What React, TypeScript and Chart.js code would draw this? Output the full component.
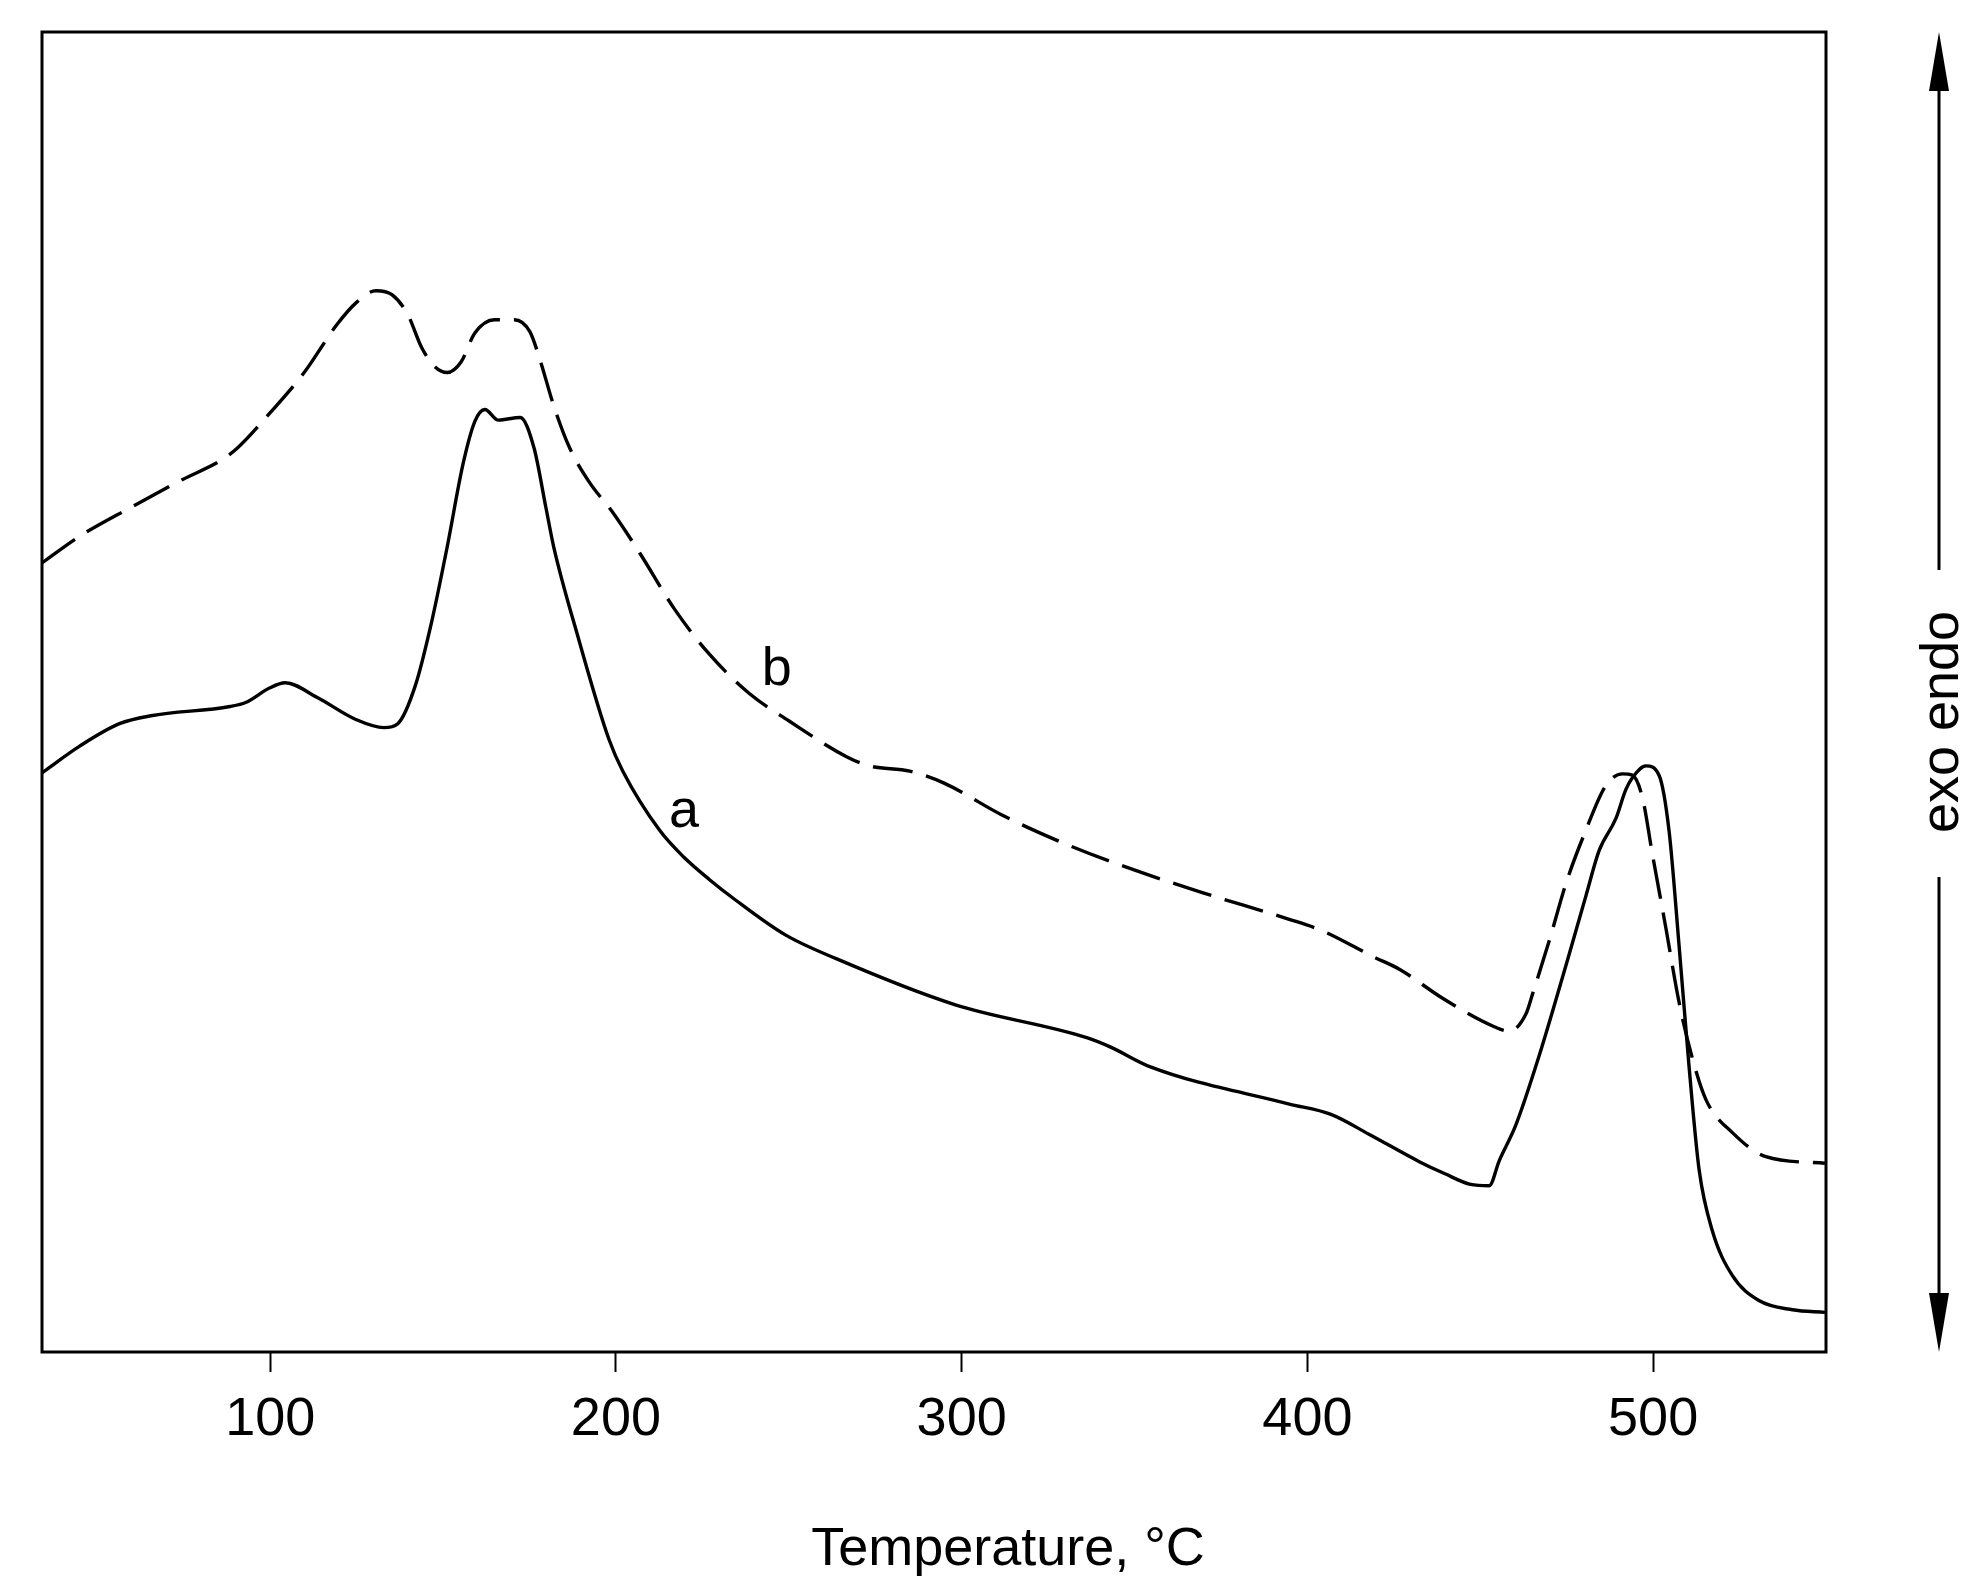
import React, { useEffect, useRef } from "react";
import { Chart, registerables } from "chart.js";

Chart.register(...registerables);

// Temperature axis ticks
const tickValues = [100, 200, 300, 400, 500];
const tickLabels = ["100", "200", "300", "400", "500"];

// Curve a (solid)
const aTemp = [
  34.1, 44.9, 56.4, 65.5, 88.4, 92.9, 99.8, 104.3, 113.5, 124.9, 132.9, 136.9,
  142.0, 146.6, 151.2, 155.8, 159.2, 162.1, 166.0, 172.3, 176.3, 179.8, 182.0,
  188.9, 198.0, 202.0, 212.7, 219.6, 227.0, 234.3, 249.0, 263.7, 298.2,
  336.4, 343.1, 354.6, 394.5, 406.8, 417.8, 432.5, 439.8, 447.2, 452.6,
  455.5, 460.3, 467.1, 474.8, 480.5, 484.4, 489.2, 492.1, 494.0, 497.9, 501.7,
  504.6, 507.5, 510.4, 513.3, 517.1, 522.9, 530.6, 540.3, 549.7,
];
const aSignal = [
  43.9, 45.9, 47.6, 48.2, 48.9, 49.2, 50.3, 50.7, 49.6, 47.9, 47.3, 47.6,
  50.5, 55.2, 61.0, 67.3, 70.5, 71.4, 70.6, 70.8, 68.5, 63.9, 61.0,
  54.3, 46.4, 44.0, 39.5, 37.5, 35.8, 34.3, 31.6, 29.8, 26.3,
  23.8, 23.1, 21.6, 18.8, 18.0, 16.5, 14.4, 13.5, 12.7, 12.6,
  14.5, 17.2, 22.5, 29.3, 34.5, 38.0, 40.4, 42.6, 43.5, 44.4, 43.7,
  39.5, 30.8, 21.6, 13.8, 9.2, 5.8, 3.9, 3.2, 3.0,
];

// Curve b (dashed)
const bTemp = [
  34.1, 44.9, 59.8, 74.7, 86.1, 90.6, 99.8, 110.1, 119.2, 124.9, 130.6, 135.2,
  139.8, 143.8, 147.8, 151.2, 155.2, 159.2, 164.9, 170.6, 175.1, 178.0, 182.0,
  186.6, 192.3, 199.1, 207.2, 216.9, 226.9, 238.5, 250.1, 266.7, 273.3, 285.0,
  294.9, 311.5, 328.1, 344.7, 369.6, 394.5, 404.4, 419.4, 426.6, 439.1, 453.6,
  458.4, 463.2, 465.1, 470.0, 474.8, 480.5, 486.3, 491.1, 494.0, 496.9, 499.8,
  503.7, 507.5, 511.4, 515.3, 523.0, 532.6, 549.7,
];
const bSignal = [
  59.8, 61.8, 64.0, 66.1, 67.6, 68.5, 71.1, 74.3, 77.8, 79.5, 80.4, 80.1,
  78.6, 76.1, 74.6, 74.2, 75.0, 77.2, 78.2, 78.2, 77.3, 75.2, 71.7,
  68.5, 65.9, 63.6, 60.4, 56.3, 52.9, 49.9, 47.8, 45.1, 44.4, 44.0,
  43.1, 40.7, 38.7, 37.0, 34.8, 32.8, 31.9, 29.9, 29.0, 26.8, 24.7,
  24.3, 25.6, 27.1, 31.2, 35.5, 39.5, 42.9, 43.8, 43.7, 42.0, 37.7,
  32.1, 26.5, 22.2, 19.1, 16.6, 14.8, 14.3,
];

// Curve labels (temperature, signal at baseline)
const curveLabels = ["a", "b"];
const labelTemp = [219.7, 246.5];
const labelSignal = [39.8, 50.5];

const xTitle = "Temperature, °C";
const sideTitle = "exo endo";

const FONT = '"Liberation Sans", Arial, sans-serif';

const decorations = {
  id: "decorations",
  afterDraw(chart: any) {
    const { ctx, chartArea } = chart;
    const xs = chart.scales.x;
    const ys = chart.scales.y;
    ctx.save();
    // frame
    ctx.strokeStyle = "#000";
    ctx.lineWidth = 3;
    ctx.strokeRect(
      chartArea.left,
      chartArea.top,
      chartArea.right - chartArea.left,
      chartArea.bottom - chartArea.top
    );
    // curve labels
    ctx.fillStyle = "#000";
    ctx.font = `54px ${FONT}`;
    ctx.textAlign = "center";
    ctx.textBaseline = "alphabetic";
    curveLabels.forEach((l, i) => {
      ctx.fillText(l, xs.getPixelForValue(labelTemp[i]), ys.getPixelForValue(labelSignal[i]));
    });
    // x title
    ctx.fillText(xTitle, 1008, 1565);

    // side arrow
    const ax = chartArea.right + 113;
    const top = chartArea.top;
    const bot = chartArea.bottom;
    const headL = 59;
    const headW = 10;
    ctx.lineWidth = 3;
    ctx.beginPath();
    ctx.moveTo(ax, top + headL - 2);
    ctx.lineTo(ax, 570);
    ctx.moveTo(ax, 877);
    ctx.lineTo(ax, bot - headL + 2);
    ctx.stroke();
    ctx.beginPath();
    ctx.moveTo(ax, top);
    ctx.lineTo(ax - headW, top + headL);
    ctx.lineTo(ax + headW, top + headL);
    ctx.closePath();
    ctx.fill();
    ctx.beginPath();
    ctx.moveTo(ax, bot);
    ctx.lineTo(ax - headW, bot - headL);
    ctx.lineTo(ax + headW, bot - headL);
    ctx.closePath();
    ctx.fill();
    // side text
    ctx.save();
    ctx.translate(ax + 19, 722);
    ctx.rotate(-Math.PI / 2);
    ctx.textAlign = "center";
    ctx.textBaseline = "alphabetic";
    ctx.font = `54px ${FONT}`;
    ctx.fillText(sideTitle, 0, 0);
    ctx.restore();
    ctx.restore();
  },
};

export default function App() {
  const canvasRef = useRef<HTMLCanvasElement | null>(null);

  useEffect(() => {
    document.body.style.margin = "0";
    const canvas = canvasRef.current;
    if (!canvas) return;
    const chart = new Chart(canvas, {
      type: "line",
      data: {
        datasets: [
          {
            label: "a",
            data: aTemp.map((t, i) => ({ x: t, y: aSignal[i] })),
            borderColor: "#000",
            borderWidth: 3.4,
            pointRadius: 0,
            cubicInterpolationMode: "monotone",
            fill: false,
          },
          {
            label: "b",
            data: bTemp.map((t, i) => ({ x: t, y: bSignal[i] })),
            borderColor: "#000",
            borderWidth: 3.4,
            borderDash: [40, 14],
            pointRadius: 0,
            cubicInterpolationMode: "monotone",
            fill: false,
          },
        ],
      },
      options: {
        animation: false,
        responsive: false,
        devicePixelRatio: 1,
        layout: { padding: { left: 42, top: 32, right: 160, bottom: 0 } },
        plugins: {
          legend: { display: false },
          tooltip: { enabled: false },
          title: { display: false },
        },
        scales: {
          x: {
            type: "linear",
            min: 34,
            max: 550,
            afterBuildTicks: (scale: any) => {
              scale.ticks = tickValues.map((v) => ({ value: v }));
            },
            afterFit: (scale: any) => {
              scale.height = 236;
            },
            border: { display: false },
            grid: {
              display: true,
              drawOnChartArea: false,
              drawTicks: true,
              tickLength: 20,
              tickWidth: 2,
              tickColor: "#000",
            },
            ticks: {
              autoSkip: false,
              maxRotation: 0,
              padding: 16,
              color: "#000",
              font: { family: FONT, size: 54 },
              callback: (value: any) => {
                const i = tickValues.indexOf(Number(value));
                return i >= 0 ? tickLabels[i] : "";
              },
            },
          },
          y: {
            type: "linear",
            display: false,
            min: 0,
            max: 100,
          },
        },
      },
      plugins: [decorations],
    });
    return () => chart.destroy();
  }, []);

  return (
    <div style={{ position: "absolute", left: 0, top: 0, width: 1986, height: 1588, background: "#fff" }}>
      <canvas ref={canvasRef} width={1986} height={1588} style={{ width: 1986, height: 1588 }} />
    </div>
  );
}
